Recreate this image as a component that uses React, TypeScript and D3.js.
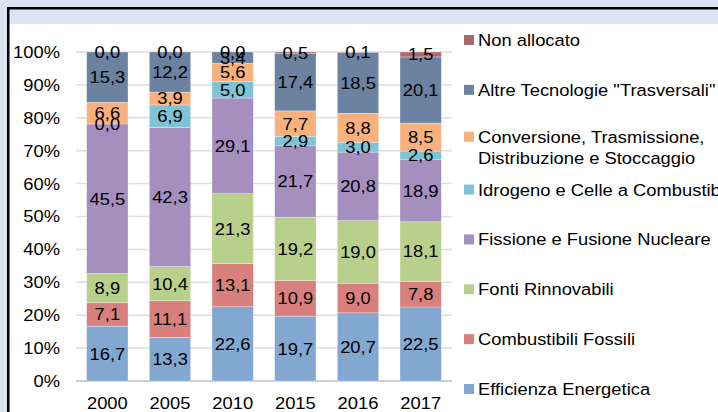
import React from 'react';
import * as d3 from 'd3';

const years = ['2000', '2005', '2010', '2015', '2016', '2017'];

const seriesNames = [
  'Efficienza Energetica',
  'Combustibili Fossili',
  'Fonti Rinnovabili',
  'Fissione e Fusione Nucleare',
  'Idrogeno e Celle a Combustibili',
  'Conversione, Trasmissione, Distribuzione e Stoccaggio',
  'Altre Tecnologie "Trasversali"',
  'Non allocato',
];

const efficienza = [16.7, 13.3, 22.6, 19.7, 20.7, 22.5];
const combustibili = [7.1, 11.1, 13.1, 10.9, 9.0, 7.8];
const rinnovabili = [8.9, 10.4, 21.3, 19.2, 19.0, 18.1];
const nucleare = [45.5, 42.3, 29.1, 21.7, 20.8, 18.9];
const idrogeno = [0.0, 6.9, 5.0, 2.9, 3.0, 2.6];
const conversione = [6.6, 3.9, 5.6, 7.7, 8.8, 8.5];
const altre = [15.3, 12.2, 3.4, 17.4, 18.5, 20.1];
const nonAllocato = [0.0, 0.0, 0.0, 0.5, 0.1, 1.5];

const yTicks = [0, 0.1, 0.2, 0.3, 0.4, 0.5, 0.6, 0.7, 0.8, 0.9, 1];

// legend lines (top to bottom)
const legendLines = [
  ['Non allocato'],
  ['Altre Tecnologie "Trasversali"'],
  ['Conversione, Trasmissione,', 'Distribuzione e Stoccaggio'],
  ['Idrogeno e Celle a Combustibili'],
  ['Fissione e Fusione Nucleare'],
  ['Fonti Rinnovabili'],
  ['Combustibili Fossili'],
  ['Efficienza Energetica'],
];

const colors = ['#82a7d1', '#d8807e', '#b9cf8c', '#a48fbf', '#7ec4d4', '#f8b17c', '#6b82a0', '#a86b6b'];

const W = 718;
const H = 412;
const FONT = '"Liberation Sans", Arial, sans-serif';
const STRETCH = 1.08;

// text drawn slightly wider, like the original screenshot
const T: React.FC<{ x: number; y: number; anchor?: 'start' | 'middle' | 'end'; children: React.ReactNode }> =
  ({ x, y, anchor = 'start', children }) => (
    <text transform={`translate(${x},${y}) scale(${STRETCH},1)`} dy="0.35em"
      textAnchor={anchor} fontSize={17} fill="#000">
      {children}
    </text>
  );

const App: React.FC = () => {
  const allSeries = [efficienza, combustibili, rinnovabili, nucleare, idrogeno, conversione, altre, nonAllocato];
  const rows = years.map((y, i) => {
    const r: Record<string, number | string> = { year: y };
    seriesNames.forEach((k, j) => { r[k] = allSeries[j][i]; });
    return r;
  });

  const stacked = d3.stack<any>()
    .keys(seriesNames)
    .offset(d3.stackOffsetExpand)(rows);

  const x = d3.scaleBand<string>()
    .domain(years)
    .range([76, 452])
    .paddingInner(0.34)
    .paddingOuter(0.17);

  const y = d3.scaleLinear().domain([0, 1]).range([381, 52]);

  const fmt = (v: number) => v.toFixed(1).replace('.', ',');
  const legendY = d3.scaleLinear().domain([0, 7]).range([40, 389]);

  return (
    <svg width={W} height={H} style={{ position: 'absolute', left: 0, top: 0 }} fontFamily={FONT}>
      <rect x={0} y={0} width={W} height={H} fill="#fff" />
      <rect x={0} y={0} width={W} height={24} fill="#dbe5f1" />
      <rect x={0} y={0} width={8} height={H} fill="#dbe5f1" />
      <rect x={7} y={7} width={W - 7} height={2.5} fill="#000" />
      <rect x={7} y={7} width={2.5} height={H - 7} fill="#000" />

      {/* gridlines */}
      {yTicks.map(t => (
        <line key={t} x1={76} x2={452} y1={y(t)} y2={y(t)}
          stroke={t === 0 ? '#bfbfbf' : '#dedede'} strokeWidth={1.5} />
      ))}
      {yTicks.map(t => (
        <T key={'l' + t} x={60} y={y(t)} anchor="end">{d3.format('.0%')(t)}</T>
      ))}

      {/* bars */}
      {stacked.map((s, si) => (
        <g key={s.key} fill={colors[si]}>
          {s.map((d, i) => (
            <rect key={i} x={x(years[i])} width={x.bandwidth()}
              y={y(d[1])} height={Math.max(0, y(d[0]) - y(d[1]))}
              stroke="#ffffff" strokeOpacity={0.5} strokeWidth={0.6} />
          ))}
        </g>
      ))}

      {/* labels */}
      {stacked.map((s, si) => (
        <g key={'t' + s.key}>
          {s.map((d, i) => (
            <T key={i} x={(x(years[i]) as number) + x.bandwidth() / 2}
              y={y((d[0] + d[1]) / 2)} anchor="middle">
              {fmt(allSeries[si][i])}
            </T>
          ))}
        </g>
      ))}

      {/* x axis labels */}
      {years.map(yr => (
        <T key={yr} x={(x(yr) as number) + x.bandwidth() / 2} y={403} anchor="middle">{yr}</T>
      ))}

      {/* legend */}
      {legendLines.map((lines, i) => {
        const cy = legendY(i) + (lines.length > 1 ? -3 : 0);
        return (
          <g key={i}>
            <rect x={464} y={cy - 5} width={10} height={10} fill={colors[7 - i]} />
            {lines.map((ln, k) => (
              <T key={k} x={478} y={cy + k * 21}>{ln}</T>
            ))}
          </g>
        );
      })}
    </svg>
  );
};

export default App;
